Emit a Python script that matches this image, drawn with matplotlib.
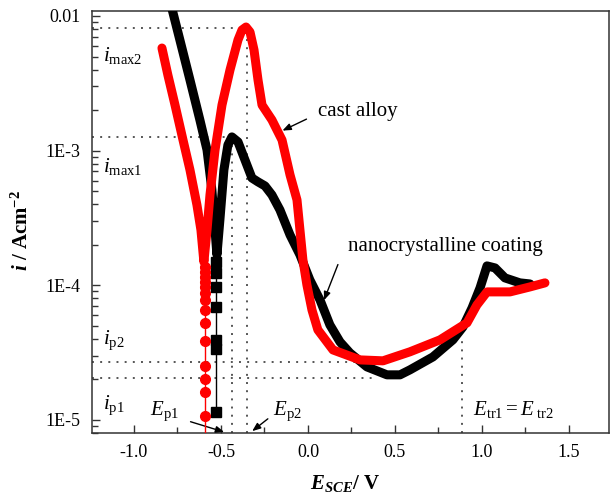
import matplotlib
matplotlib.use("Agg")
import matplotlib.pyplot as plt
from matplotlib.ticker import FixedLocator, MultipleLocator, NullFormatter

plt.rcParams['font.family'] = ['Liberation Serif', 'DejaVu Serif']
plt.rcParams['mathtext.fontset'] = 'custom'
plt.rcParams['mathtext.rm'] = 'Liberation Serif'
plt.rcParams['mathtext.it'] = 'Liberation Serif:italic'
plt.rcParams['mathtext.bf'] = 'Liberation Serif:bold'
plt.rcParams['mathtext.bfit'] = 'Liberation Serif:italic:bold'
plt.rcParams['axes.unicode_minus'] = False

# nanocrystalline coating (black)
nano_E = [-0.787, -0.736, -0.678, -0.621, -0.580, -0.552, -0.534, -0.523,
          -0.506, -0.483, -0.460, -0.437, -0.402, -0.362, -0.322, -0.287,
          -0.247, -0.207, -0.161, -0.103, -0.046, 0.011, 0.069, 0.126,
          0.184, 0.241, 0.339, 0.454, 0.529, 0.586, 0.718, 0.833, 0.891,
          0.943, 0.989, 1.029, 1.075, 1.132, 1.218, 1.276]
nano_logi = [-1.918, -2.178, -2.475, -2.772, -2.995, -3.292, -3.589, -3.774,
             -3.514, -3.143, -2.958, -2.898, -2.935, -3.069, -3.203, -3.232,
             -3.262, -3.329, -3.440, -3.626, -3.774, -3.960, -4.108, -4.294,
             -4.420, -4.502, -4.606, -4.665, -4.665, -4.628, -4.532, -4.405,
             -4.309, -4.168, -4.019, -3.856, -3.871, -3.945, -3.982, -3.990]
nano_pts_E = [-0.53] * 7
nano_pts_logi = [-3.826, -3.908, -4.012, -4.160, -4.405, -4.472, -4.940]

# cast alloy (red)
cast_E = [-0.839, -0.805, -0.764, -0.718, -0.678, -0.638, -0.615, -0.598,
          -0.580, -0.563, -0.534, -0.494, -0.448, -0.402, -0.379, -0.356,
          -0.333, -0.310, -0.287, -0.264, -0.207, -0.149, -0.103, -0.063,
          -0.046, -0.029, -0.006, 0.023, 0.057, 0.144, 0.299, 0.431, 0.586,
          0.759, 0.914, 0.971, 1.029, 1.161, 1.276, 1.362]
cast_logi = [-2.238, -2.438, -2.661, -2.921, -3.143, -3.403, -3.589, -3.826,
             -3.589, -3.329, -2.995, -2.661, -2.401, -2.178, -2.104, -2.082,
             -2.119, -2.252, -2.475, -2.661, -2.772, -2.921, -3.180, -3.366,
             -3.589, -3.811, -3.997, -4.183, -4.331, -4.480, -4.554, -4.561,
             -4.494, -4.405, -4.279, -4.146, -4.049, -4.049, -4.012, -3.982]
cast_pts_E = [-0.59] * 15
cast_pts_logi = [-3.863, -3.901, -3.938, -3.975, -4.012, -4.056, -4.108,
                 -4.183, -4.279, -4.413, -4.598, -4.695, -4.791, -4.970, -5.25]

# characteristic values
E_p1, E_p2, E_tr = -0.437, -0.35, 0.885
i_max1, i_max2 = 1.26e-3, 8.1e-3
i_p1, i_p2 = 2.06e-5, 2.7e-5
E_ip1_end, E_ip2_end = 0.397, 0.299
i_tr = 4.07e-5

ytick_vals = [1e-5, 1e-4, 1e-3, 1e-2]
ytick_labels = ['1E-5', '1E-4', '1E-3', '0.01']
xtick_vals = [-1.0, -0.5, 0.0, 0.5, 1.0, 1.5]

xmin, xmax = -1.241, 1.730
ymin, ymax = 8.0e-6, 1.089e-2

fig = plt.figure(figsize=(6.1, 5.04), dpi=100)
ax = fig.add_axes([92 / 610, 71 / 504, 517 / 610, 422 / 504])
ax.set_yscale('log')
ax.set_xlim(xmin, xmax)
ax.set_ylim(ymin, ymax)

dot = dict(color='#555555', lw=1.4, ls=(0, (1, 3.2)), zorder=1)
ax.plot([xmin, E_p2], [i_max2, i_max2], **dot)
ax.plot([E_p2, E_p2], [ymin, i_max2], **dot)
ax.plot([xmin, E_p1], [i_max1, i_max1], **dot)
ax.plot([E_p1, E_p1], [ymin, i_max1], **dot)
ax.plot([xmin, E_ip2_end], [i_p2, i_p2], **dot)
ax.plot([xmin, E_ip1_end], [i_p1, i_p1], **dot)
ax.plot([E_tr, E_tr], [ymin, i_tr], **dot)

ax.plot(nano_E, [10 ** v for v in nano_logi], color='black', lw=6.5,
        solid_capstyle='round', solid_joinstyle='round', zorder=3)
ax.plot(nano_pts_E, [10 ** v for v in nano_pts_logi], color='black', lw=1,
        marker='s', ms=6.5, zorder=3)
ax.plot(cast_E, [10 ** v for v in cast_logi], color='#ff0000', lw=6.5,
        solid_capstyle='round', solid_joinstyle='round', zorder=4)
ax.plot(cast_pts_E, [10 ** v for v in cast_pts_logi], color='#ff0000', lw=1,
        marker='o', ms=7, zorder=4)

ax.yaxis.set_major_locator(FixedLocator(ytick_vals))
ax.set_yticklabels(ytick_labels)
ax.yaxis.set_minor_locator(matplotlib.ticker.LogLocator(base=10, subs=range(2, 10)))
ax.yaxis.set_minor_formatter(NullFormatter())
ax.set_xticks(xtick_vals)
ax.set_xticklabels(['%.1f' % v for v in xtick_vals])
ax.xaxis.set_minor_locator(MultipleLocator(0.25))
ax.tick_params(which='both', direction='in', top=False, right=False,
               labelsize=13, pad=8, color='#333333')
ax.tick_params(which='major', length=6, width=1)
ax.tick_params(which='minor', length=4, width=1)
for s in ax.spines.values():
    s.set_color('#333333')
    s.set_linewidth(1.1)

# labels on the chart
lab = dict(fontsize=15, va='center', ha='left')
ax.text(-1.178, 5.1e-3, r'$i_{\rm max2}$', **lab)
ax.text(-1.178, 7.57e-4, r'$i_{\rm max1}$', **lab)
ax.text(-1.178, 3.94e-5, r'$i_{\rm p2}$', **lab)
ax.text(-1.178, 1.29e-5, r'$i_{\rm p1}$', **lab)
ax.text(-0.908, 1.17e-5, r'$E_{\rm p1}$', **lab)
ax.text(-0.201, 1.17e-5, r'$E_{\rm p2}$', **lab)
ax.text(0.948, 1.2e-5, r'$E_{\rm tr1}{=}E_{\;\rm tr2}$', **lab)
ax.text(0.287, 1.94e-3, 'cast alloy', fontsize=15, ha='center', va='center')
ax.text(0.230, 1.93e-4, 'nanocrystalline coating', fontsize=15, ha='left', va='center')

arr = dict(arrowstyle='-|>,head_length=0.5,head_width=0.2', color='black', lw=1)
ax.annotate('', xy=(-0.161, 1.38e-3), xytext=(0.006, 1.75e-3), arrowprops=arr)
ax.annotate('', xy=(0.086, 7.4e-5), xytext=(0.178, 1.49e-4), arrowprops=arr)
ax.annotate('', xy=(-0.466, 8.02e-6), xytext=(-0.690, 9.84e-6), arrowprops=arr,
            annotation_clip=False)
ax.annotate('', xy=(-0.333, 8.02e-6), xytext=(-0.218, 1.05e-5), arrowprops=arr,
            annotation_clip=False)

fig.text(22 / 610, 1 - 230 / 504, r'$\mathbfit{i}$ / Acm$^{\mathbf{-2}}$',
         rotation=90, fontsize=15, fontweight='bold', ha='center', va='center')
fig.text(345 / 610, 1 - 484 / 504, r'$\mathbfit{E}_{\mathbfit{SCE}}$/ V',
         fontsize=15, fontweight='bold', ha='center', va='center')

fig.savefig('out.png', dpi=100)
